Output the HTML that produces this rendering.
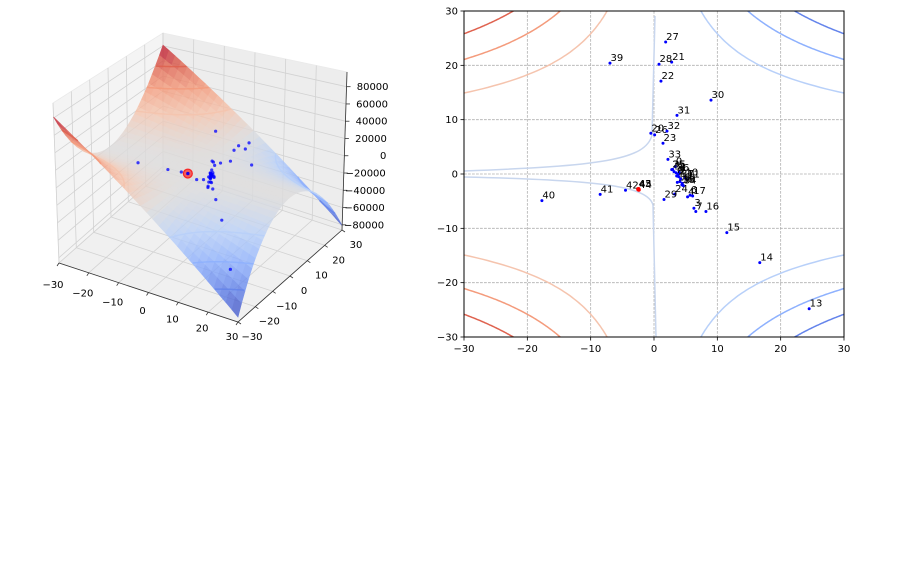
<!DOCTYPE html>
<html><head><meta charset="utf-8">
<style>
html,body{margin:0;padding:0;background:#fff;}
svg{display:block;font-family:"DejaVu Sans","Liberation Sans",sans-serif;}
</style></head>
<body>
<svg id="fig" width="916" height="563" viewBox="0 0 916 563" xmlns="http://www.w3.org/2000/svg">
<defs>
<clipPath id="clip2d"><rect x="464" y="11" width="380" height="326"/></clipPath>
</defs>
<rect x="0" y="0" width="916" height="563" fill="#fff"/>
<g id="ax3d"></g>
<g id="ax2d"></g>
</svg>
<script>
// ---- data ----
const pointLabels = [0,1,2,3,4,5,6,7,8,9,10,11,12,13,14,15,16,17,18,19,20,21,22,23,24,25,26,27,28,29,30,31,32,33,34,35,36,37,38,39,40,41,42,43,44,45];
const pointX = [3.37,4.0,3.9,6.3,5.3,3.16,5.7,6.6,3.58,3.84,4.9,5.16,4.1,24.5,16.7,11.5,8.2,6.1,3.68,4.47,-0.5,2.79,1.1,1.42,3.26,2.8,0.1,1.84,0.79,1.58,9.0,3.63,2.05,2.2,4.63,2.95,3.5,4.2,4.4,-6.95,-17.7,-8.5,-4.5,-2.5,-2.4,-2.45];
const pointY = [1.35,0.3,-0.5,-6.3,-4.2,0.43,-3.9,-6.9,-0.37,-0.06,-0.6,-1.0,-1.4,-24.8,-16.3,-10.8,-6.9,-4.05,-1.53,-1.72,7.5,20.6,17.1,5.66,-3.7,0.8,7.2,24.3,20.2,-4.7,13.6,10.8,7.9,2.7,-2.15,0.86,0.2,-0.9,-2.0,20.4,-4.9,-3.75,-3.0,-2.8,-2.9,-2.75];
const highlighted = [43,44,45];
const contourLevels = [-60000,-40000,-20000,20000,40000,60000];
const xTicks = [-30,-20,-10,0,10,20,30];
const yTicks = [-30,-20,-10,0,10,20,30];
const zTicks = [-80000,-60000,-40000,-20000,0,20000,40000,60000,80000];

const NS = "http://www.w3.org/2000/svg";
function el(parent, tag, attrs, text){
  const e = document.createElementNS(NS, tag);
  for (const k in attrs) e.setAttribute(k, attrs[k]);
  if (text !== undefined) e.textContent = text;
  parent.appendChild(e);
  return e;
}
function fmt(v){ return (v<0?"\u2212":"") + Math.abs(v); }
function f(x,y){ return -3*x*y*y; }
const CM = [[59,76,192],[98,130,234],[141,176,254],[184,208,249],[221,220,220],[245,196,173],[244,154,123],[222,96,77],[180,4,38]];
function cmap(t){
  t=Math.max(0,Math.min(1,t)); const s=t*8, i=Math.min(7,Math.floor(s)), r=s-i;
  const a=CM[i], b=CM[i+1];
  return "rgb("+a.map((v,k)=>Math.round(v+(b[k]-v)*r)).join(",")+")";
}
function levelColor(c){ return cmap(0.5 + c/162000); }

// ---- 2D contour axes ----
const ax2 = document.getElementById("ax2d");
const X0=464, X1=844, Y0=337, Y1=11;
function sx(x){ return X0 + (x+30)/60*(X1-X0); }
function sy(y){ return Y0 - (y+30)/60*(Y0-Y1); }

xTicks.forEach(t=>{
  const g = el(ax2,"line",{x1:sx(t),x2:sx(t),y1:Y1,y2:Y0,stroke:"#b0b0b0","stroke-width":0.8,"stroke-dasharray":"2.8,1.2"});
  
  
});
yTicks.forEach(t=>{
  const g = el(ax2,"line",{x1:X0,x2:X1,y1:sy(t),y2:sy(t),stroke:"#b0b0b0","stroke-width":0.8,"stroke-dasharray":"2.8,1.2"});
  
  
});
const cg = el(ax2,"g",{"clip-path":"url(#clip2d)"});


function contourPts(c, s){
  const pts=[]; const ymin=Math.sqrt(Math.abs(c)/90);
  for(let i=0;i<=60;i++){ const y=s*(ymin+(30.5-ymin)*i/60); pts.push([-c/(3*y*y), y]); }
  return pts;
}
contourLevels.forEach(c=>{
  [1,-1].forEach(s=>{
    const pts = contourPts(c,s);
    const p = el(cg,"polyline",{points:pts.map(q=>sx(q[0]).toFixed(1)+","+sy(q[1]).toFixed(1)).join(" "),fill:"none",stroke:levelColor(c),"stroke-width":1.5});
    
    
  });
});
const z1 = el(cg,"path",{d:"M464,171 C600,166 646,160 652,135 L655,16",fill:"none",stroke:"#c8d6ee","stroke-width":1.5});


const z2 = el(cg,"path",{d:"M464,177 C600,180 648,186 653,205 L656,337",fill:"none",stroke:"#c8d6ee","stroke-width":1.5});



const frame = el(ax2,"rect",{x:X0,y:Y1,width:X1-X0,height:Y0-Y1,fill:"none",stroke:"#000","stroke-width":1});


xTicks.forEach(t=>{
  el(ax2,"line",{x1:sx(t),x2:sx(t),y1:Y0,y2:Y0+3.5,stroke:"#000","stroke-width":0.8});
  const l = el(ax2,"text",{x:sx(t),y:Y0+15,"text-anchor":"middle","font-size":10,fill:"#000"},fmt(t));
  
  
});
yTicks.forEach(t=>{
  el(ax2,"line",{x1:X0-3.5,x2:X0,y1:sy(t),y2:sy(t),stroke:"#000","stroke-width":0.8});
  const l = el(ax2,"text",{x:X0-6,y:sy(t)+3.5,"text-anchor":"end","font-size":10,fill:"#000"},fmt(t));
  
  
});
const pg = el(ax2,"g",{});


pointLabels.forEach((lab,i)=>{
  const red = highlighted.indexOf(lab)>=0;
  const c = el(pg,"circle",{cx:sx(pointX[i]),cy:sy(pointY[i]),r:red?2:1.5,fill:red?"#ff0000":"#0000ff"});
  
  
  const t = el(pg,"text",{x:sx(pointX[i])+0.5,y:sy(pointY[i])-2,"font-size":10,fill:"#000"},String(lab));
  
  
});

// ---- 3D axes ----
const ax3 = document.getElementById("ax3d");
const ZMIN=-86000, ZMAX=97000;
const F=[[59,263],[238,322],[163,171],[342,230]]; // (u0v0),(u1v0),(u0v1),(u1v1)
const T=[[53,103],[237,142],[163,33],[347,72]];
function bil(C,u,v){
  return [0,1].map(k=>(1-u)*(1-v)*C[0][k]+u*(1-v)*C[1][k]+(1-u)*v*C[2][k]+u*v*C[3][k]);
}
function P(x,y,z){
  const u=(x+30)/60, v=(y+30)/60, t=(z-ZMIN)/(ZMAX-ZMIN);
  const a=bil(F,u,v), b=bil(T,u,v);
  return [a[0]+(b[0]-a[0])*t, a[1]+(b[1]-a[1])*t];
}
function poly(pts){ return pts.map(p=>p[0].toFixed(1)+","+p[1].toFixed(1)).join(" "); }
const pl = el(ax3,"polygon",{points:poly([P(-30,-30,ZMIN),P(-30,30,ZMIN),P(-30,30,ZMAX),P(-30,-30,ZMAX)]),fill:"#f4f4f4",stroke:"#eaeaea","stroke-width":0.8});


const pb = el(ax3,"polygon",{points:poly([P(-30,30,ZMIN),P(30,30,ZMIN),P(30,30,ZMAX),P(-30,30,ZMAX)]),fill:"#ededed",stroke:"#eaeaea","stroke-width":0.8});


const pf = el(ax3,"polygon",{points:poly([P(-30,-30,ZMIN),P(30,-30,ZMIN),P(30,30,ZMIN),P(-30,30,ZMIN)]),fill:"#f0f0f0",stroke:"#eaeaea","stroke-width":0.8});


const gg = el(ax3,"g",{stroke:"#d2d2d2","stroke-width":0.8,fill:"none"});


xTicks.forEach(t=>{ el(gg,"polyline",{points:poly([P(t,-30,ZMIN),P(t,30,ZMIN),P(t,30,ZMAX)])}); });
yTicks.forEach(t=>{ el(gg,"polyline",{points:poly([P(30,t,ZMIN),P(-30,t,ZMIN),P(-30,t,ZMAX)])}); });
zTicks.forEach(t=>{ el(gg,"polyline",{points:poly([P(-30,-30,t),P(-30,30,t),P(30,30,t)])}); });

// surface
const sg = el(ax3,"g",{opacity:0.8});


const N=30, quads=[];
for(let i=0;i<N;i++)for(let j=0;j<N;j++){
  const xa=-30+60*i/N, xb=-30+60*(i+1)/N, ya=-30+60*j/N, yb=-30+60*(j+1)/N;
  const fm=(f(xa,ya)+f(xb,ya)+f(xb,yb)+f(xa,yb))/4;
  quads.push({d:(xa+xb)/2-(ya+yb)/2, pts:[P(xa,ya,f(xa,ya)),P(xb,ya,f(xb,ya)),P(xb,yb,f(xb,yb)),P(xa,yb,f(xa,yb))], c:cmap(0.5+fm/162000)});
}
quads.sort((a,b)=>a.d-b.d);
quads.forEach(q=>{ el(sg,"polygon",{points:poly(q.pts),fill:q.c,stroke:q.c,"stroke-width":0.6}); });

// 3D contours
const c3 = el(ax3,"g",{fill:"none","stroke-width":1.5,opacity:0.85});


contourLevels.forEach(c=>{
  [1,-1].forEach(s=>{
    const pts = contourPts(c,s).filter(q=>q[0]>=-30&&q[0]<=30&&Math.abs(q[1])<=30).map(q=>P(q[0],q[1],c));
    if(pts.length>1){ const p=el(c3,"polyline",{points:poly(pts),stroke:levelColor(c)});
      
       }
  });
});

// axis lines and ticks
const al = el(ax3,"g",{stroke:"#333","stroke-width":0.8,fill:"none"});


el(al,"polyline",{points:poly([P(-30,-30,ZMIN),P(30,-30,ZMIN),P(30,30,ZMIN)])});
el(al,"polyline",{points:poly([P(30,30,ZMIN),P(30,30,ZMAX)])});
xTicks.forEach(t=>{
  const p=P(t,-30,ZMIN);
  el(al,"line",{x1:p[0],y1:p[1],x2:p[0]-2,y2:p[1]+3});
  const l=el(ax3,"text",{x:p[0]-6,y:p[1]+25-7*(t+30)/60,"text-anchor":"middle","font-size":10,fill:"#000"},fmt(t));
  
  
});
yTicks.forEach(t=>{
  const p=P(30,t,ZMIN);
  el(al,"line",{x1:p[0],y1:p[1],x2:p[0]+3,y2:p[1]+2});
  const l=el(ax3,"text",{x:p[0]+14,y:p[1]+18,"text-anchor":"middle","font-size":10,fill:"#000"},fmt(t));
  
  
});
zTicks.forEach(t=>{
  const p=P(30,30,t);
  el(al,"line",{x1:p[0],y1:p[1],x2:p[0]+4,y2:p[1]});
  const l=el(ax3,"text",{x:p[0]+42,y:p[1]+3.5,"text-anchor":"end","font-size":10,fill:"#000"},fmt(t));
  
  
});

// 3D scatter
const s3 = el(ax3,"g",{});


pointLabels.forEach((lab,i)=>{
  const p=P(pointX[i],pointY[i],f(pointX[i],pointY[i]));
  if(highlighted.indexOf(lab)>=0){
    const r=el(s3,"circle",{cx:p[0],cy:p[1],r:4.5,fill:"#ff0000","fill-opacity":0.25,stroke:"#ff0000","stroke-opacity":0.4});
    
    
  }
  const c=el(s3,"circle",{cx:p[0],cy:p[1],r:1.6,fill:"#0000ff","fill-opacity":0.75});
  
  
});
</script>
</body></html>
